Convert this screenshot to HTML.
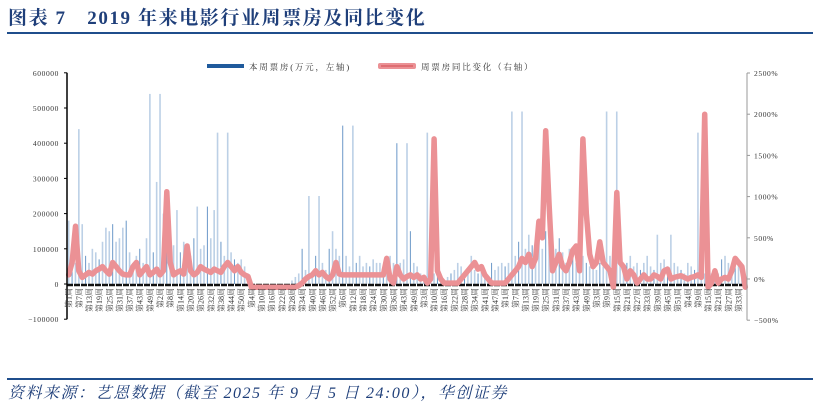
<!DOCTYPE html>
<html><head><meta charset="utf-8"><style>
html,body{margin:0;padding:0;background:#fff;width:820px;height:409px;overflow:hidden}
svg{display:block}
text{font-family:"Liberation Serif","Noto Serif CJK SC",serif}
</style></head><body>
<svg id="chart" width="820" height="409">
<text x="8" y="24" font-size="19" font-weight="bold" letter-spacing="1.6" fill="#1f3f7a">图表 7　2019 年来电影行业周票房及同比变化</text>
<line x1="7" y1="33" x2="813" y2="33" stroke="#1f4e8c" stroke-width="2"/>
<line x1="7" y1="379" x2="813" y2="379" stroke="#1f4e8c" stroke-width="2"/>
<text x="8" y="398" font-size="16" font-style="italic" letter-spacing="1.5" fill="#1f3f7a">资料来源：艺恩数据（截至 2025 年 9 月 5 日 24:00），华创证券</text>
<g>
<rect x="207" y="64" width="37" height="4" fill="#1f5a9c"/>
<text x="249" y="70" font-size="8.5" letter-spacing="1.8" fill="#333">本周票房(万元，左轴)</text>
<rect x="378" y="63" width="38" height="6" rx="2" fill="#eb9195"/>
<line x1="381" y1="66" x2="413" y2="66" stroke="#d04b50" stroke-width="1"/>
<text x="421" y="70" font-size="8.5" letter-spacing="1.8" fill="#333">周票房同比变化（右轴）</text>
</g>
<g id="plot"></g>
</svg>
<script>
const leftTicks=[600000,500000,400000,300000,200000,100000,0,-100000];
const rightTicks=[2500,2000,1500,1000,500,0,-500];
const weekLabels=[1,7,13,19,25,31,37,43,49,2,8,14,20,26,32,38,44,50,4,10,16,22,28,34,40,46,52,6,12,18,24,30,36,43,49,3,10,16,22,28,34,41,47,1,7,13,19,25,31,37,43,49,3,9,15,21,27,33,39,45,51,4,9,15,21,27,33];
const boxOffice=[
180000,100000,60000,440000,170000,80000,60000,100000,90000,70000,
120000,160000,150000,170000,120000,130000,160000,180000,90000,60000,
80000,100000,60000,130000,540000,90000,290000,540000,200000,100000,
140000,110000,210000,90000,120000,60000,80000,130000,220000,100000,
110000,220000,130000,210000,430000,120000,80000,430000,90000,70000,
60000,70000,50000,30000,10000,0,0,0,0,0,
0,0,0,0,0,0,10000,20000,30000,100000,
40000,250000,30000,80000,250000,60000,40000,100000,150000,100000,
80000,450000,80000,50000,450000,60000,80000,50000,60000,50000,
70000,60000,60000,50000,80000,80000,60000,400000,60000,70000,
400000,150000,60000,50000,30000,20000,430000,20000,30000,20000,
20000,10000,20000,30000,40000,60000,50000,30000,40000,80000,
40000,30000,40000,20000,20000,60000,40000,50000,60000,50000,
60000,490000,80000,120000,490000,100000,140000,110000,100000,150000,
100000,150000,120000,80000,100000,130000,90000,60000,100000,80000,
60000,70000,80000,60000,50000,70000,40000,60000,50000,490000,
80000,60000,490000,100000,50000,60000,80000,50000,60000,40000,
60000,80000,50000,40000,140000,60000,70000,50000,140000,60000,
50000,40000,30000,60000,50000,40000,430000,60000,30000,40000,
30000,40000,30000,70000,80000,60000,50000,70000,60000,40000,20000];
const yoyPct=[
50,200,640,100,20,50,80,60,100,120,
150,100,60,200,150,100,60,50,50,150,
200,50,100,150,50,80,120,50,100,1060,
200,50,80,100,60,400,100,50,80,150,
120,100,80,120,100,80,150,200,150,100,
150,80,50,30,-100,-100,-100,-100,-100,-100,
-100,-100,-100,-100,-100,-100,-100,-100,-80,-50,
0,30,50,100,50,80,30,0,50,200,
60,50,50,50,50,50,50,50,50,50,
50,50,50,50,250,0,-50,150,50,0,
30,50,20,50,0,20,-50,0,1700,100,
0,-50,-50,-50,-50,-50,0,50,100,150,
200,120,150,50,0,-50,-50,-50,-50,-50,
0,50,100,150,250,200,300,150,250,700,
500,1800,900,100,200,300,150,100,200,350,
400,100,1700,800,300,150,200,450,200,150,
100,-100,1050,200,150,0,100,50,-50,0,
50,0,0,50,30,0,100,120,0,20,
30,40,20,0,20,30,50,20,2000,-100,
-50,100,-50,0,20,0,100,250,200,150,-100];

const NS='http://www.w3.org/2000/svg';
const g=document.getElementById('plot');
const X0=67,X1=747;
const N=boxOffice.length;
const step=(X1-X0)/N;
const xAt=i=>X0+(i+0.5)*step;
const yL=v=>284-v/100000*35.2;
const yR=p=>279-p/500*41.2;
function mk(tag,attrs){const e=document.createElementNS(NS,tag);for(const k in attrs)e.setAttribute(k,attrs[k]);g.appendChild(e);return e;}

boxOffice.forEach((v,i)=>{
  const y=yL(Math.max(v,0));
  const dark=(i%4===1);
  const w=dark?1:1.6;
  const b=mk('rect',{x:xAt(i)-w/2,y:y,width:w,height:Math.max(0,284-y),fill:dark?'#6b98c8':'#bcd0e6'});
  
  
});
const zb=mk('line',{x1:X0,y1:285,x2:X1,y2:285,stroke:'#111',"stroke-width":2.5,"stroke-dasharray":"6 1"});


const pts=yoyPct.map((p,i)=>xAt(i).toFixed(1)+','+yR(p).toFixed(1)).join(' ');
const pl=mk('polyline',{points:pts,fill:'none',stroke:'#eb9195',"stroke-width":5.5,"stroke-linejoin":"round","stroke-linecap":"round"});



const la=mk('line',{x1:X0,y1:yL(600000),x2:X0,y2:yL(-100000),stroke:'#000',"stroke-width":1.5});


leftTicks.forEach(v=>{
  const t=mk('line',{x1:X0-3,y1:yL(v),x2:X0,y2:yL(v),stroke:'#000'});
  
  
  const tx=mk('text',{x:X0-8,y:yL(v)+3,"font-size":7.5,"letter-spacing":0.6,"text-anchor":"end",fill:'#333'});
  tx.textContent=v===-100000?'−100000':String(v);
  
  
});
const ra=mk('line',{x1:X1,y1:yR(2500),x2:X1,y2:yR(-500),stroke:'#999',"stroke-width":1});


rightTicks.forEach(p=>{
  const t=mk('line',{x1:X1,y1:yR(p),x2:X1+3,y2:yR(p),stroke:'#999'});
  
  
  const tx=mk('text',{x:X1+7,y:yR(p)+3,"font-size":7.5,"letter-spacing":0.6,fill:'#333'});
  tx.textContent=(p<0?'−':'')+Math.abs(p)+'%';
  
  
});
const per=N/weekLabels.length;
weekLabels.forEach((w,k)=>{
  const x=X0+(k*per+0.5)*step+3;
  const tx=mk('text',{x:0,y:0,"font-size":8,"text-anchor":"end",fill:'#333',transform:`translate(${x.toFixed(1)},288) rotate(-90)`});
  tx.textContent='第'+w+'周';
  
  
});
</script>
</body></html>
